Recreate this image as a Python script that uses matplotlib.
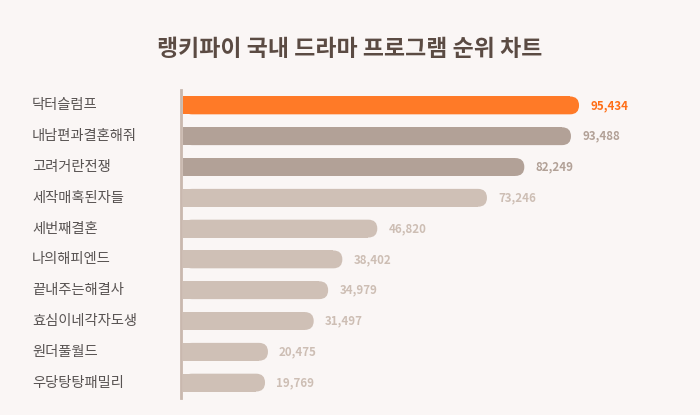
import matplotlib
matplotlib.use("Agg")
import matplotlib.pyplot as plt
from matplotlib.patches import FancyBboxPatch, Rectangle
from matplotlib.transforms import IdentityTransform

plt.rcParams['font.family'] = ['Noto Sans CJK KR', 'DejaVu Sans']

# Datos del grafico
titulo = '랭키파이 국내 드라마 프로그램 순위 차트'
programas = ['닥터슬럼프', '내남편과결혼해줘', '고려거란전쟁', '세작매혹된자들', '세번째결혼',
             '나의해피엔드', '끝내주는해결사', '효심이네각자도생', '원더풀월드', '우당탕탕패밀리']
valores = [95434, 93488, 82249, 73246, 46820, 38402, 34979, 31497, 20475, 19769]

# Colores de barras y etiquetas
fondo = '#FAF6F5'
colores = ['#FF7A27'] + ['#B2A197'] * 2 + ['#CFC0B6'] * 7
colores_txt = ['#FF6E16'] + ['#B2A197'] * 2 + ['#CDBEB4'] * 7

fig = plt.figure(figsize=(7, 4.15), dpi=100, facecolor=fondo)
ax = fig.add_axes([181 / 700, 17 / 415, 500 / 700, 308 / 415])
ax.set_facecolor(fondo)

y = list(range(len(programas)))
barras = ax.barh(y, valores, height=0.58, color=colores)

ax.set_xlim(-480, 500 / 0.00415 - 480)
ax.set_ylim(9.5, -0.5)
ax.set_xticks([])
ax.set_yticks([])
for s in ['top', 'right', 'bottom']:
    ax.spines[s].set_visible(False)
ax.spines['left'].set_color('#C9B8AE')
ax.spines['left'].set_linewidth(2)

# Nombres de los programas a la izquierda
for i, nombre in enumerate(programas):
    ax.annotate(nombre, xy=(0, i), xycoords=('figure fraction', 'data'),
                xytext=(32 * 0.72, 0), textcoords='offset points',
                ha='left', va='center', fontsize=10.3, color='#585352')

# Valores al final de cada barra
for i, v in enumerate(valores):
    ax.annotate(f'{v:,}', xy=(v, i), xytext=(8, 0), textcoords='offset points',
                ha='left', va='center', fontsize=8.3, fontweight='bold', color=colores_txt[i])

fig.text(0.5, 1 - 50 / 415, titulo, ha='center', va='center', fontsize=16.5,
         fontweight='bold', color='#5B4B43')

# Barras con esquina redondeada a la derecha
fig.canvas.draw()
for b, c in zip(barras, colores):
    bb = b.get_window_extent()
    b.set_visible(False)
    r = bb.height / 2
    fig.add_artist(FancyBboxPatch((bb.x0, bb.y0), bb.width, bb.height,
                                  boxstyle=f"round,pad=0,rounding_size={r}",
                                  transform=IdentityTransform(), fc=c, ec='none', zorder=1))
    fig.add_artist(Rectangle((bb.x0, bb.y0), bb.width - r, bb.height,
                             transform=IdentityTransform(), fc=c, ec='none', zorder=1))

fig.savefig('out.png', dpi=100, facecolor=fondo)
